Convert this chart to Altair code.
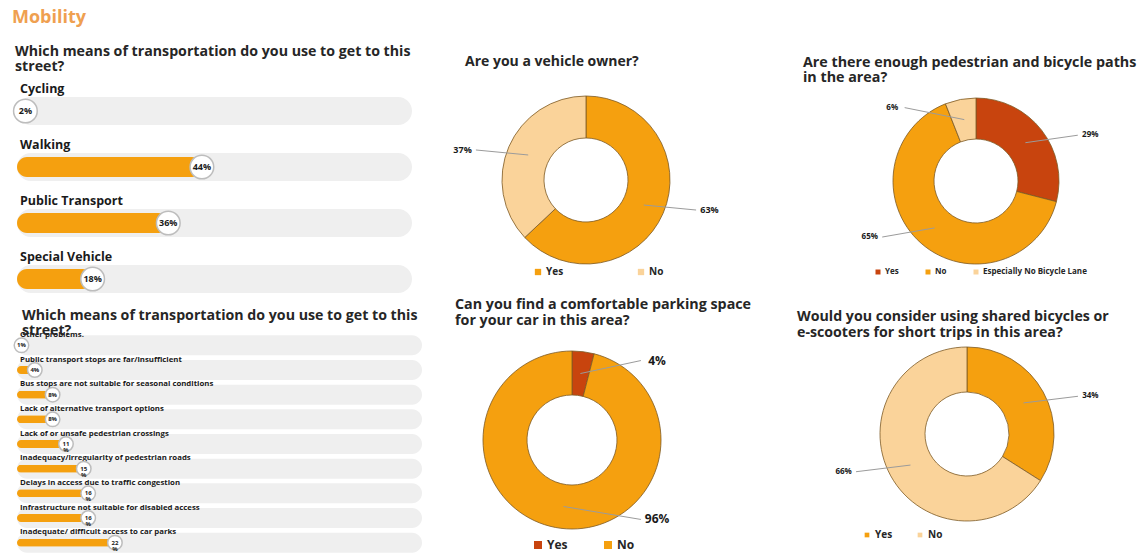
import altair as alt
import pandas as pd

FONT = "Open Sans"
ORANGE = "#F5A00F"
PEACH = "#FAD39A"
RED = "#C8440E"
TRACK = "#EFEFEF"
INK = "#262626"

# ---- data ----
modes = ["Cycling", "Walking", "Public Transport", "Special Vehicle"]
mode_pct = [2, 44, 36, 18]

problems = [
    "Other problems.",
    "Public transport stops are far/insufficient",
    "Bus stops are not suitable for seasonal conditions",
    "Lack of alternative transport options",
    "Lack of or unsafe pedestrian crossings",
    "Inadequacy/irregularity of pedestrian roads",
    "Delays in access due to traffic congestion",
    "Infrastructure not suitable for disabled access",
    "Inadequate/ difficult access to car parks",
]
problem_pct = [1, 4, 8, 8, 11, 15, 16, 16, 22]

owner_cats = ["Yes", "No"]
owner_pct = [63, 37]
paths_cats = ["Yes", "No", "Especially No Bicycle Lane"]
paths_pct = [29, 65, 6]
parking_cats = ["Yes", "No"]
parking_pct = [4, 96]
shared_cats = ["Yes", "No"]
shared_pct = [34, 66]


def title(lines, size, offset, dx=0, line_h=None):
    kw = dict(text=lines, anchor="start", frame="group", font=FONT, fontSize=size,
              fontWeight="bold", color=INK, offset=offset, dx=dx)
    if line_h:
        kw["lineHeight"] = line_h
    return alt.TitleParams(**kw)


def bar_panel(cats, vals, ttl, width, height, dmax, track_h, bar_h, circ_size,
              lab_size, lab_off, bar_off, val_size, line_break):
    lbl = [(f"{v}\n%" if (line_break and v >= 10) else f"{v}%") for v in vals]
    df = pd.DataFrame({"cat": cats, "pct": vals, "lbl": lbl})
    xs = alt.Scale(domain=[0, dmax], nice=False, zero=True)
    y = alt.Y("cat:N", sort=cats, axis=None,
              scale=alt.Scale(paddingInner=0, paddingOuter=0))
    base = alt.Chart(df).encode(y=y)
    track = base.mark_bar(size=track_h, cornerRadius=track_h / 2, color=TRACK,
                          yOffset=bar_off).encode(
        x=alt.XDatum(0, scale=xs, axis=None), x2=alt.X2Datum(dmax))
    bar = base.mark_bar(size=bar_h, cornerRadius=bar_h / 2, color=ORANGE,
                        yOffset=bar_off).encode(
        x=alt.X("pct:Q", scale=xs, axis=None))
    lab = base.mark_text(align="left", baseline="middle", dx=3, yOffset=lab_off,
                         font=FONT, fontSize=lab_size, fontWeight="bold",
                         color="#1a1a1a").encode(
        x=alt.XDatum(0, scale=xs, axis=None), text="cat:N")
    circ = base.mark_circle(size=circ_size, color="white", stroke="#BDBDBD",
                            strokeWidth=1.5, opacity=1, yOffset=bar_off).encode(
        x=alt.X("pct:Q", scale=xs, axis=None))
    val = base.mark_text(baseline="middle", yOffset=bar_off, font=FONT,
                         fontSize=val_size, fontWeight="bold", color="#1a1a1a",
                         lineBreak="\n", lineHeight=val_size).encode(
        x=alt.X("pct:Q", scale=xs, axis=None), text="lbl:N")
    return alt.layer(track, bar, lab, circ, val).properties(
        width=width, height=height, title=ttl)


def donut_panel(cats, vals, colors, ttl, width, height, r_out, r_in, lbl_size,
                lx, ly, leg_size, sym_size, col_pad, lbl_gap):
    df = pd.DataFrame({"cat": cats, "pct": vals, "ord": list(range(len(cats)))})
    df["lbl"] = [f"{v}%" for v in vals]
    color = alt.Color("cat:N", scale=alt.Scale(domain=cats, range=colors),
                      legend=alt.Legend(orient="none", legendX=lx, legendY=ly,
                                        direction="horizontal", title=None,
                                        symbolType="square", symbolSize=sym_size,
                                        symbolStrokeWidth=0,
                                        labelFont=FONT, labelFontSize=leg_size,
                                        labelFontWeight="bold", labelColor=INK,
                                        columnPadding=col_pad, labelOffset=3))
    arcs = alt.Chart(df).mark_arc(innerRadius=r_in, outerRadius=r_out,
                                  stroke="#7d5a24", strokeWidth=1,
                                  strokeOpacity=0.8).encode(
        theta=alt.Theta("pct:Q", stack=True), color=color,
        order=alt.Order("ord:Q"))
    cx, cy = width / 2, height / 2
    r1 = (r_in + r_out) / 2
    back = 0.93 * lbl_size + 5
    geo = alt.Chart(df).transform_joinaggregate(
        total="sum(pct)"
    ).transform_window(
        cum="sum(pct)", sort=[alt.SortField("ord")], frame=[None, 0]
    ).transform_calculate(
        ang="(datum.cum - datum.pct / 2) / datum.total * 2 * PI",
    ).transform_calculate(
        side="(sin(datum.ang) >= 0 || cos(datum.ang) < -0.95) ? 1 : -1",
        dy=f"-{0.9 * r_out} * cos(datum.ang)",
    ).transform_calculate(
        dxl=f"sqrt(max({r_out * r_out} - datum.dy * datum.dy, 0)) + {lbl_gap}",
    ).transform_calculate(
        x1=f"{cx} + {r1} * sin(datum.ang)",
        y1=f"{cy} - {r1} * cos(datum.ang)",
        xl=f"{cx} + datum.side * datum.dxl",
        x2=f"{cx} + datum.side * (datum.dxl - {back})",
        yl=f"{cy} + datum.dy",
    )
    lead = geo.mark_rule(color="#9b9b9b", strokeWidth=1).encode(
        x=alt.X("x1:Q", scale=None), y=alt.Y("y1:Q", scale=None),
        x2="x2:Q", y2="yl:Q")
    txt = geo.mark_text(font=FONT, fontSize=lbl_size, fontWeight="bold",
                        color="#1a1a1a", baseline="middle").encode(
        x=alt.X("xl:Q", scale=None), y=alt.Y("yl:Q", scale=None), text="lbl:N")
    return alt.layer(arcs, lead, txt).properties(width=width, height=height,
                                                 title=ttl)


def spacer(w):
    return alt.Chart(pd.DataFrame({"s": [0]})).mark_point(opacity=0).encode(
        x=alt.value(0), y=alt.value(0)).properties(width=w, height=1)


q_mode = ["Which means of transportation do you use to get to this", "street?"]

A = bar_panel(modes, mode_pct, title(q_mode, 14.2, -1, -2, 15), 395, 224, 94,
              28, 20, 560, 12.5, -12, 10, 9, False)
B = bar_panel(problems, problem_pct, title(q_mode, 14.2, -10, 5, 15), 405, 222, 91,
              20, 8, 210, 7.8, -5.5, 5, 6, True)

C = donut_panel(owner_cats, owner_pct, [ORANGE, PEACH],
                title("Are you a vehicle owner?", 14, 4, 8), 258, 214, 84, 42, 9,
                76, 194, 10, 40, 72, 45)
D = donut_panel(parking_cats, parking_pct, [RED, ORANGE],
                title(["Can you find a comfortable parking space",
                       "for your car in this area?"], 14.3, 0, -2, 16),
                230, 224, 89, 45, 12, 75, 211, 12, 64, 34, 45)
E = donut_panel(paths_cats, paths_pct, [RED, ORANGE, PEACH],
                title(["Are there enough pedestrian and bicycle paths",
                       "in the area?"], 14.3, -12, -29, 15),
                288, 216, 83, 42, 8, 42, 195, 8, 25, 25, 45)
F = donut_panel(shared_cats, shared_pct, [ORANGE, PEACH],
                title(["Would you consider using shared bicycles or",
                       "e-scooters for short trips in this area?"], 14.2, -12, -35, 16),
                270, 212, 87, 42, 8, 30, 202, 10, 22, 22, 45)

chart = alt.concat(
    A, C, spacer(47), E,
    B, D, spacer(47), F,
    columns=4, spacing={"row": 31, "column": 35}, bounds="flush",
).resolve_scale(
    color="independent", theta="independent"
).properties(
    title=alt.TitleParams("Mobility", anchor="start", frame="group", font=FONT,
                          fontSize=18, fontWeight="bold", color="#EFA050",
                          offset=17, dx=-5),
    padding={"left": 10, "top": 9, "right": 0, "bottom": 0},
    background="white",
).configure_view(stroke="transparent")

chart.save("out.html", embed_options={"renderer": "svg", "actions": False})
